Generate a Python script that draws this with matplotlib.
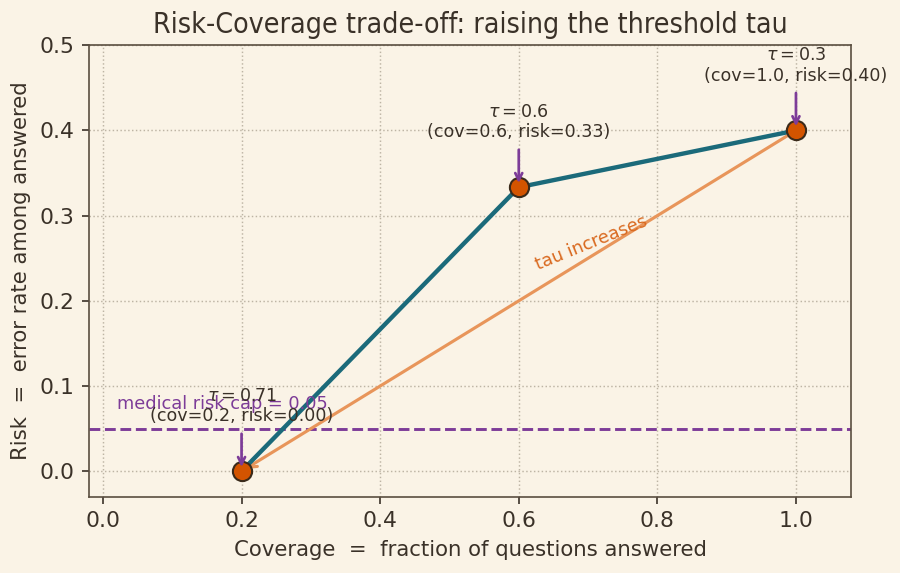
import matplotlib
matplotlib.use("Agg")
import matplotlib.pyplot as plt

# data
coverage = [0.2, 0.6, 1.0]
risk = [0.0, 1/3, 0.40]
taus = ["0.71", "0.6", "0.3"]
risk_labels = ["0.00", "0.33", "0.40"]
risk_cap = 0.05

bg = "#faf3e6"
ink = "#3a3128"
teal = "#1b6a7a"
orange = "#d35400"
light_orange = "#e8955a"
purple = "#7d3c98"

plt.rcParams['font.family'] = ['DejaVu Sans']

fig, ax = plt.subplots(figsize=(6.0, 3.82), dpi=150)
fig.patch.set_facecolor(bg)
ax.set_facecolor(bg)

ax.plot(coverage, risk, color=teal, lw=2.1, zorder=3)
ax.scatter(coverage, risk, s=85, color=orange, edgecolor="#3a2a1a", linewidth=1.0, zorder=4)

ax.axhline(risk_cap, color=purple, ls="--", lw=1.4, zorder=2)
ax.text(0.02, risk_cap + 0.018, f"medical risk cap = {risk_cap:.2f}", color=purple, fontsize=8.5, va="bottom", ha="left")

# direction arrow
ax.annotate("", xy=(coverage[0], risk[0]), xytext=(coverage[-1], risk[-1]),
            arrowprops=dict(arrowstyle="->", color=light_orange, lw=1.5), zorder=2)
ax.text(0.705, 0.268, "tau increases", color="#d9691f", fontsize=8.5, rotation=22,
        ha="center", va="center")

for c, r, t, rl in zip(coverage, risk, taus, risk_labels):
    ax.annotate(f"$\\tau = ${t}\n(cov={c:.1f}, risk={rl})", xy=(c, r), xytext=(0, 22),
                textcoords="offset points", ha="center", va="bottom", fontsize=8.4, color=ink,
                arrowprops=dict(arrowstyle="->", color=purple, lw=1.3), zorder=5)

ax.set_xlim(-0.02, 1.08)
ax.set_ylim(-0.03, 0.5)
ax.grid(True, ls=":", color="#bdb4a4", lw=0.7)
ax.set_axisbelow(True)
for s in ax.spines.values():
    s.set_color("#5a4e40")
ax.tick_params(colors=ink, labelsize=10.5)
ax.set_xlabel("Coverage  =  fraction of questions answered", fontsize=10.2, color=ink)
ax.set_ylabel("Risk  =  error rate among answered", fontsize=10.2, color=ink)
ax.set_title("Risk-Coverage trade-off: raising the threshold tau", fontsize=13.6, color=ink,
             fontstretch="condensed")

fig.subplots_adjust(left=0.099, right=0.946, top=0.921, bottom=0.133)
fig.savefig("out.png", dpi=150, facecolor=bg)
